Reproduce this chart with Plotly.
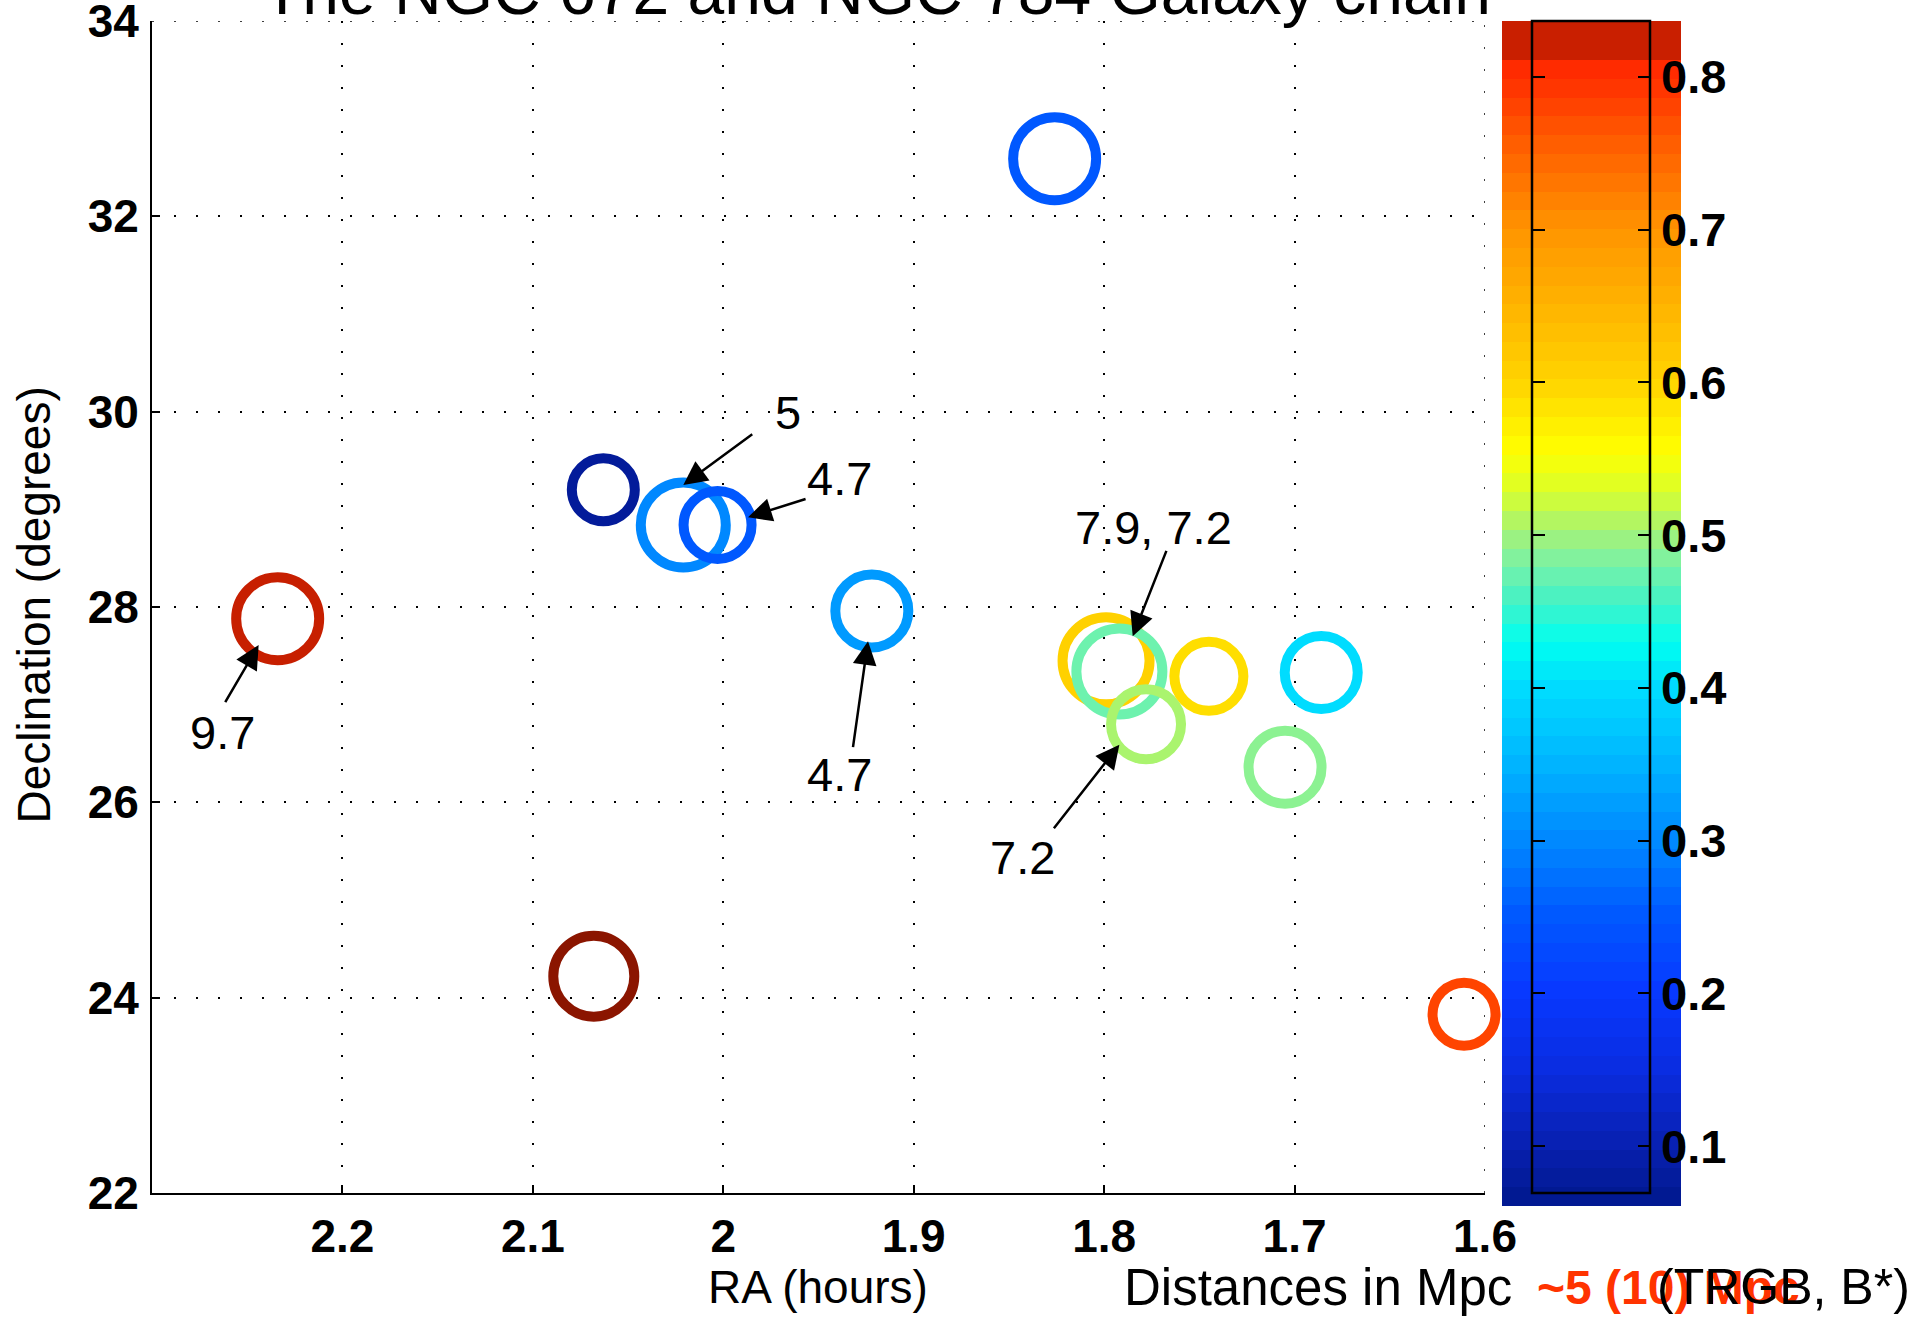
import numpy as np
import plotly.graph_objects as go

W, H = 1919, 1317

# ---- data ----
ra = [1.826, 2.063, 2.021, 2.003, 1.922, 2.234, 2.068, 1.611, 1.799, 1.792, 1.778, 1.745, 1.686, 1.705]
dec = [32.59, 29.20, 28.84, 28.84, 27.96, 27.88, 24.22, 23.83, 27.45, 27.34, 26.80, 27.29, 27.33, 26.36]
color_value = [0.25, 0.075, 0.30, 0.25, 0.32, 0.83, 0.95, 0.78, 0.605, 0.475, 0.505, 0.59, 0.40, 0.49]
marker_size = [83, 63, 85, 68, 73, 83, 81, 63, 87, 86, 70, 69, 73, 73]

label_text = ["5", "4.7", "4.7", "9.7", "7.9, 7.2", "7.2"]
label_ra = [1.966, 1.939, 1.939, 2.263, 1.774, 1.843]
label_dec = [29.99, 29.32, 26.29, 26.71, 28.81, 25.44]
arrow_tail_ra = [1.984, 1.956, 1.932, 2.262, 1.767, 1.827]
arrow_tail_dec = [29.78, 29.11, 26.55, 27.01, 28.59, 25.72]
arrow_head_ra = [2.021, 1.987, 1.924, 2.244, 1.785, 1.792]
arrow_head_dec = [29.25, 28.92, 27.65, 27.61, 27.70, 26.59]

x_range = [2.3, 1.6]
y_range = [22, 34]
x_ticks = [2.2, 2.1, 2.0, 1.9, 1.8, 1.7, 1.6]
x_ticktext = ["2.2", "2.1", "2", "1.9", "1.8", "1.7", "1.6"]
y_ticks = [22, 24, 26, 28, 30, 32, 34]
cb_ticks = [0.1, 0.2, 0.3, 0.4, 0.5, 0.6, 0.7, 0.8]

# colour scale (value, colour)
cmin, cmax = 0.06, 0.95
scale_stops = [
    (0.06, "#00188C"), (0.10, "#0820B0"), (0.15, "#0A2CE0"), (0.20, "#0838FF"),
    (0.25, "#0058FF"), (0.30, "#0088FF"), (0.35, "#00B4FF"), (0.40, "#00DCFF"),
    (0.43, "#00FFF0"), (0.455, "#40F2C8"), (0.48, "#78F2A8"), (0.50, "#A0F27C"),
    (0.53, "#DCFF28"), (0.555, "#FFFF00"), (0.60, "#FFD400"), (0.65, "#FFB400"),
    (0.70, "#FF9400"), (0.75, "#FF6400"), (0.80, "#FF2E00"), (0.811, "#FF2800"),
    (0.8112, "#CC2000"), (0.84, "#C41E00"), (0.95, "#8B1500"),
]
colorscale = [[(v - cmin) / (cmax - cmin), c] for v, c in scale_stops]

# colour bar bands
cb_lo, cb_split, cb_hi = 0.0608, 0.811, 0.8366
cb_edges = list(np.linspace(cb_lo, cb_split, 62)) + [cb_hi]
cb_mid = [[(a + b) / 2] for a, b in zip(cb_edges[:-1], cb_edges[1:])]

FONT = "Liberation Sans, Arial, sans-serif"
BOLD_TICK = dict(size=46, family=FONT, weight="bold", color="black")

fig = go.Figure()

fig.add_trace(go.Scatter(
    x=ra, y=dec, mode="markers",
    marker=dict(symbol="circle-open", size=marker_size, color=color_value,
                colorscale=colorscale, cmin=cmin, cmax=cmax, showscale=False,
                opacity=1, line=dict(width=10)),
    hoverinfo="x+y", showlegend=False, xaxis="x", yaxis="y", cliponaxis=False))

fig.add_trace(go.Heatmap(
    x=[0, 1], y=cb_edges, z=cb_mid, colorscale=colorscale, zmin=cmin, zmax=cmax,
    showscale=False, hoverinfo="skip", xaxis="x2", yaxis="y2"))

for ax_name in ["y3", "y4"]:
    fig.add_trace(go.Scatter(x=[0.5], y=[0.5], mode="markers", marker=dict(opacity=0),
                             hoverinfo="skip", showlegend=False, xaxis="x2", yaxis=ax_name))

annotations = []
for t, lx, ly in zip(label_text, label_ra, label_dec):
    annotations.append(dict(x=lx, y=ly, xref="x", yref="y", text=t, showarrow=False,
                            font=dict(size=47, color="black", family=FONT),
                            xanchor="center", yanchor="middle"))
for hx, hy, tx, ty in zip(arrow_head_ra, arrow_head_dec, arrow_tail_ra, arrow_tail_dec):
    annotations.append(dict(x=hx, y=hy, ax=tx, ay=ty, xref="x", yref="y", axref="x", ayref="y",
                            text="", showarrow=True, arrowhead=2, arrowsize=1.9,
                            arrowwidth=2.5, arrowcolor="black", standoff=0, startstandoff=0))

# title (clipped at the top) and axis titles
annotations.append(dict(x=876 / W, y=1 + 9 / H, xref="paper", yref="paper",
                        text="The NGC 672 and NGC 784 Galaxy chain", showarrow=False,
                        font=dict(size=66, color="black", family=FONT),
                        xanchor="center", yanchor="middle"))
annotations.append(dict(x=33.5 / W, y=1 - 605 / H, xref="paper", yref="paper",
                        text="Declination (degrees)", showarrow=False, textangle=-90,
                        font=dict(size=46, color="black", family=FONT),
                        xanchor="center", yanchor="middle"))
annotations.append(dict(x=818 / W, y=1 - 1287 / H, xref="paper", yref="paper",
                        text="RA (hours)", showarrow=False,
                        font=dict(size=46, color="black", family=FONT),
                        xanchor="center", yanchor="middle"))
annotations.append(dict(x=1122 / W, y=1 - 1287 / H, xref="paper", yref="paper",
                        text="Distances in Mpc", showarrow=False,
                        font=dict(size=51, color="black", family=FONT),
                        xanchor="left", yanchor="middle"))
annotations.append(dict(x=1535 / W, y=1 - 1287 / H, xref="paper", yref="paper",
                        text="<b>~5 (10) Mpc</b>", showarrow=False,
                        font=dict(size=48, color="#FF3300", family=FONT),
                        xanchor="left", yanchor="middle"))
annotations.append(dict(x=1655 / W, y=1 - 1287 / H, xref="paper", yref="paper",
                        text="(TRGB, B*)", showarrow=False,
                        font=dict(size=50, color="black", family=FONT),
                        xanchor="left", yanchor="middle"))

grid_dash = "2px,20px"
edge_grid = dict(color="black", width=1.5, dash=grid_dash)
shapes = [
    dict(type="rect", xref="paper", yref="paper", x0=1532 / W, x1=1650 / W,
         y0=1 - 1193 / H, y1=1 - 21 / H, line=dict(color="black", width=2.5),
         fillcolor="rgba(0,0,0,0)", layer="above"),
    # grid lines that fall exactly on the plot edges (top and right)
    dict(type="line", xref="x domain", yref="y", x0=0, x1=1, y0=y_ticks[-1], y1=y_ticks[-1],
         line=edge_grid, layer="below"),
    dict(type="line", xref="x", yref="y domain", x0=x_ticks[-1], x1=x_ticks[-1], y0=0, y1=1,
         line=edge_grid, layer="below"),
]

fig.update_layout(
    template="none",
    width=W, height=H, margin=dict(l=0, r=0, t=0, b=0, pad=0, autoexpand=False),
    paper_bgcolor="white", plot_bgcolor="white",
    font=dict(family=FONT, color="black"),
    showlegend=False,
    xaxis=dict(domain=[152 / W, 1485 / W], range=x_range, tickvals=x_ticks, ticktext=x_ticktext,
               showline=True, linecolor="black", linewidth=2, mirror=False,
               ticks="inside", ticklen=8, tickwidth=1.5, tickcolor="black",
               showgrid=True, gridcolor="black", gridwidth=1.5, griddash=grid_dash,
               zeroline=False, tickfont=BOLD_TICK, ticklabelstandoff=2,
               ticklabeloverflow="allow", anchor="y", automargin=False),
    yaxis=dict(domain=[124 / H, 1296 / H], range=y_range, tickvals=y_ticks,
               showline=True, linecolor="black", linewidth=2, mirror=False,
               ticks="inside", ticklen=8, tickwidth=1.5, tickcolor="black",
               showgrid=True, gridcolor="black", gridwidth=1.5, griddash=grid_dash,
               zeroline=False, tickfont=BOLD_TICK, ticklabelstandoff=2,
               ticklabeloverflow="allow", anchor="x", automargin=False),
    xaxis2=dict(domain=[1502 / W, 1681 / W], range=[0, 1], visible=False, anchor="y2",
                automargin=False),
    yaxis2=dict(domain=[111 / H, 1296 / H], range=[cb_lo, cb_hi], visible=False, anchor="x2",
                automargin=False),
    yaxis3=dict(domain=[111 / H, 1296 / H], range=[cb_lo, cb_hi], overlaying="y2",
                anchor="free", position=1650 / W, side="right", tickvals=cb_ticks,
                ticks="inside", ticklen=12, tickwidth=2, tickcolor="black",
                showline=False, showgrid=False, zeroline=False, automargin=False,
                tickfont=dict(size=47, family=FONT, weight="bold", color="black"),
                ticklabelstandoff=10, ticklabeloverflow="allow"),
    yaxis4=dict(domain=[111 / H, 1296 / H], range=[cb_lo, cb_hi], overlaying="y2",
                anchor="free", position=1532 / W, side="left", tickvals=cb_ticks,
                ticks="inside", ticklen=12, tickwidth=2, tickcolor="black",
                showline=False, showgrid=False, zeroline=False, showticklabels=False,
                automargin=False),
    annotations=annotations,
    shapes=shapes,
)

fig.write_html("out.html", config={"displayModeBar": False},
               post_script="document.body.style.margin='0';")
